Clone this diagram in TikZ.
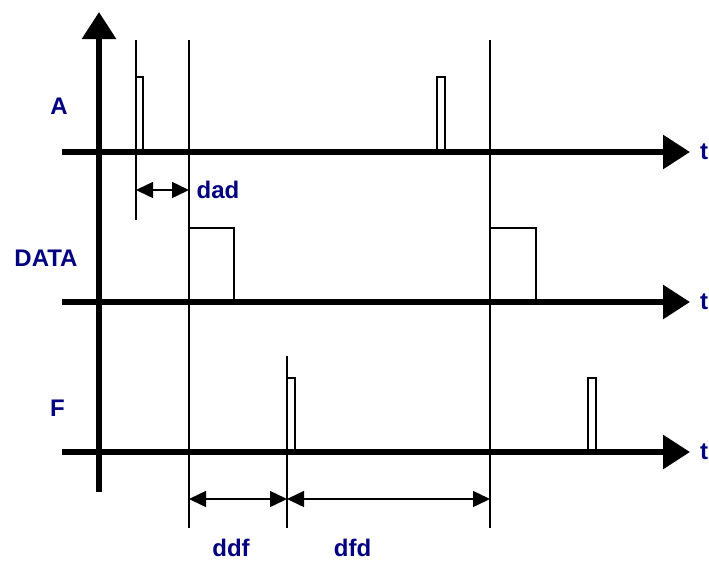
\documentclass[tikz,border=0pt]{standalone}
\usepackage{fontspec}
\setmainfont{Liberation Sans}
\usetikzlibrary{arrows.meta}
\definecolor{navy}{RGB}{0,0,128}
\tikzset{
  axisline/.style={line width=6pt, -{Triangle[length=27pt,width=33pt]}},
  guide/.style={line width=1.3pt},
  pulse/.style={line width=1.3pt},
  dimline/.style={line width=1.5pt, {Triangle[length=17pt,width=16pt]}-{Triangle[length=17pt,width=16pt]}},
  lbl/.style={text=navy, font=\fontsize{24}{29}\selectfont\bfseries, inner sep=0pt},
}
\begin{document}
\begin{tikzpicture}[x=1pt,y=-1pt]
\useasboundingbox (0,0) rectangle (709,563);
% guide lines
\coordinate (g1t) at (136,40);  \coordinate (g1b) at (136,220);
\coordinate (g2t) at (189,40);  \coordinate (g2b) at (189,528);
\coordinate (g3t) at (287,356); \coordinate (g3b) at (287,528);
\coordinate (g4t) at (490,40);  \coordinate (g4b) at (490,528);
\draw[guide] (g1t) -- (g1b);
\draw[guide] (g2t) -- (g2b);
\draw[guide] (g3t) -- (g3b);
\draw[guide] (g4t) -- (g4b);
% pulses A
\draw[pulse] (136,152) -- (136,77) -- (143,77) -- (143,152);
\draw[pulse] (437,152) -- (437,77) -- (445,77) -- (445,152);
% pulses DATA
\draw[pulse] (189,302) -- (189,228) -- (234,228) -- (234,302);
\draw[pulse] (490,302) -- (490,228) -- (536,228) -- (536,302);
% pulses F
\draw[pulse] (287,452) -- (287,378) -- (295,378) -- (295,452);
\draw[pulse] (588,452) -- (588,378) -- (596,378) -- (596,452);
% dimension arrows
\coordinate (d1a) at (136,190); \coordinate (d1b) at (189,190);
\coordinate (d2a) at (189,499); \coordinate (d2b) at (287,499);
\coordinate (d3b) at (490,499);
\draw[dimline] (d1a) -- (d1b);
\draw[dimline] (d2a) -- (d2b);
\draw[dimline] (d2b) -- (d3b);
% axes
\coordinate (ybot) at (99,492); \coordinate (ytop) at (99,12);
\coordinate (a0) at (62,152);  \coordinate (a1) at (690,152);
\coordinate (b0) at (62,302);  \coordinate (b1) at (690,302);
\coordinate (c0) at (62,452);  \coordinate (c1) at (690,452);
\draw[axisline] (ybot) -- (ytop);
\draw[axisline] (a0) -- (a1);
\draw[axisline] (b0) -- (b1);
\draw[axisline] (c0) -- (c1);
% labels
\node[lbl] (lA) at (59,106) {A};
\node[lbl] (lD) at (46,258) {DATA};
\node[lbl] (lF) at (57.5,408) {F};
\node[lbl, anchor=west] (t1) at (700,152) {t};
\node[lbl, anchor=west] (t2) at (700,302) {t};
\node[lbl, anchor=west] (t3) at (700,452) {t};
\node[lbl] (ldad) at (218,190) {dad};
\node[lbl] (lddf) at (231,548) {ddf};
\node[lbl] (ldfd) at (352.5,548) {dfd};
\end{tikzpicture}
\end{document}
